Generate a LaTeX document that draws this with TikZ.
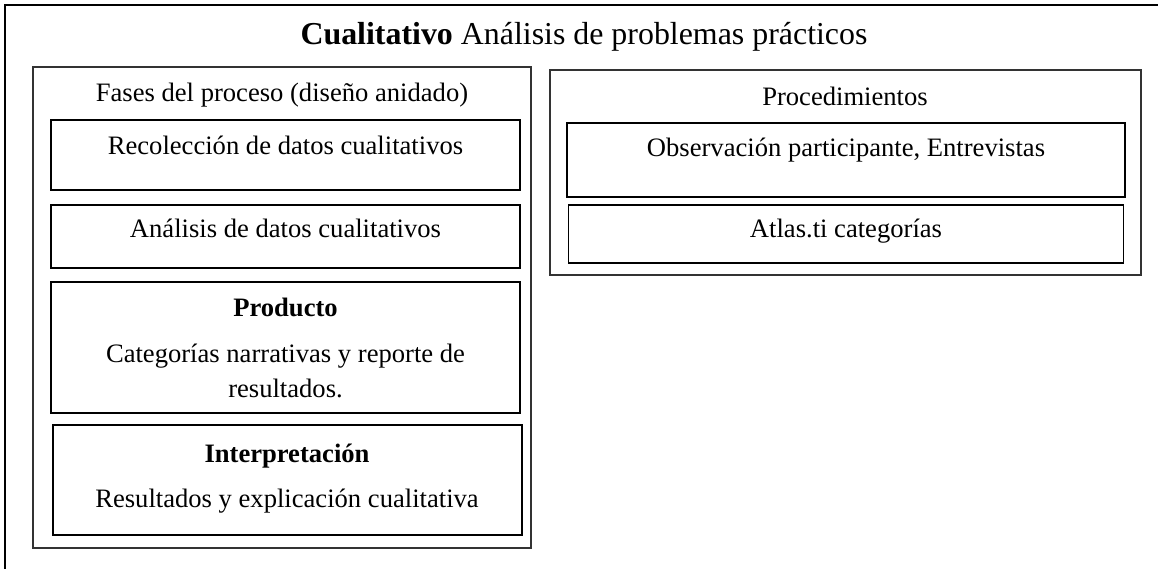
\documentclass[tikz,border=0pt]{standalone}
\usepackage{fontspec}
\setmainfont{Liberation Serif}
\begin{document}
\begin{tikzpicture}[x=1pt,y=-1pt,
  container/.style={draw=black!80, line width=1.2pt, inner sep=0pt},
  thinbox/.style={draw=black, line width=1.3pt, inner sep=0pt},
  thickbox/.style={draw=black, line width=2pt, inner sep=0pt},
  txt/.style={anchor=base, inner sep=0pt, font=\fontsize{26.6}{32}\selectfont},
  ttl/.style={anchor=base, inner sep=0pt, font=\fontsize{31.9}{38}\selectfont}]
\useasboundingbox (0,0) rectangle (1158,569);
% outer frame (top and left edges visible)
\draw[line width=2.2pt] (1160,5) -- (5,5) -- (5,571);
\node[ttl] (title) at (584,45) {\textbf{Cualitativo} Análisis de problemas prácticos};
% left container
\node[container, minimum width=498pt, minimum height=481pt] (left) at (282,307.5) {};
\node[txt] (fases) at (282,102) {Fases del proceso (diseño anidado)};
\node[thickbox, minimum width=469pt, minimum height=70pt] (rec) at (285.5,155) {};
\node[txt] (rect) at (285.5,155) {Recolección de datos cualitativos};
\node[thinbox, minimum width=469pt, minimum height=63pt] (ana) at (285.5,236.5) {};
\node[txt] (anat) at (285.5,238) {Análisis de datos cualitativos};
\node[thinbox, minimum width=469pt, minimum height=131pt] (prod) at (285.5,347.5) {};
\node[txt] (prodh) at (285.5,316) {\textbf{Producto}};
\node[txt] (prodt1) at (285.5,362) {Categorías narrativas y reporte de};
\node[txt] (prodt2) at (285.5,397) {resultados.};
\node[thickbox, minimum width=469pt, minimum height=110pt] (inter) at (287,480) {};
\node[txt] (interh) at (287,462) {\textbf{Interpretación}};
\node[txt] (intert) at (287,507) {Resultados y explicación cualitativa};
% right container
\node[container, minimum width=591pt, minimum height=205pt] (right) at (845.5,172.5) {};
\node[txt] (proc) at (845,106) {Procedimientos};
\node[thinbox, minimum width=558pt, minimum height=74pt] (obs) at (846,160) {};
\node[txt] (obst) at (846,157) {Observación participante, Entrevistas};
\node[thinbox, minimum width=555pt, minimum height=58pt] (atl) at (846,234) {};
\node[txt] (atlt) at (846,238) {Atlas.ti categorías};
\end{tikzpicture}
\end{document}
